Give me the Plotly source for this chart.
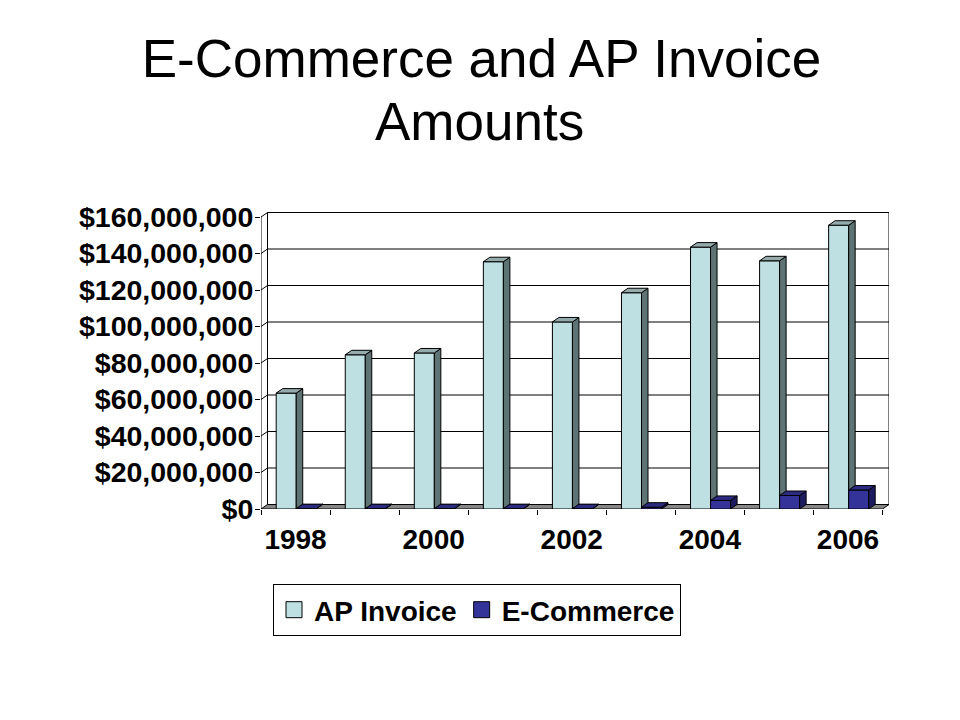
import plotly.graph_objects as go

# ---------------- data ----------------
years = ["1998", "1999", "2000", "2001", "2002", "2003", "2004", "2005", "2006"]
ap_invoice = [63.5e6, 84.5e6, 85.5e6, 135.5e6, 102.5e6, 118.5e6, 143.5e6, 136.0e6, 155.5e6]
e_commerce = [0.2e6, 0.2e6, 0.2e6, 0.2e6, 0.2e6, 1.0e6, 4.7e6, 7.4e6, 10.4e6]
y_ticks = [0, 20e6, 40e6, 60e6, 80e6, 100e6, 120e6, 140e6, 160e6]
y_tick_labels = ["$0", "$20,000,000", "$40,000,000", "$60,000,000", "$80,000,000",
                 "$100,000,000", "$120,000,000", "$140,000,000", "$160,000,000"]
x_label_years = ["1998", "2000", "2002", "2004", "2006"]

# ---------------- geometry (pixels) ----------------
W, H = 960, 720
PL, PR, PT, PB = 261, 889, 212, 509          # plot area in px
DX_PX, DY_PX = 6.5, 4.5                       # 3-D depth offset
FRONT_H = 292.0                               # px from 0 to 160M on front plane
plot_w, plot_h = PR - PL, PB - PT
n = len(years)
cw = (plot_w - DX_PX) / n                     # px per category
x_min = -0.5
x_max = x_min + plot_w / cw
s = FRONT_H / 160e6                           # px per unit
y_max = plot_h / s
dxu = DX_PX / cw
dyu = DY_PX / s
BAR_W = 0.29
AP_OFF = -0.28
EC_OFF = AP_OFF + BAR_W

AP_FRONT, AP_SIDE, AP_TOP = "#BEE0E3", "#5E7474", "#94AAAB"
EC_FRONT, EC_SIDE, EC_TOP = "#333399", "#1C1C5E", "#2B2B80"
FLOOR = "#868686"
FONT = "Liberation Sans, Arial, sans-serif"

xs = list(range(n))


def faces(values, off):
    side_x, side_y, top_x, top_y = [], [], [], []
    for i, v in zip(xs, values):
        xl = i + off
        xr = xl + BAR_W
        side_x += [xr, xr + dxu, xr + dxu, xr, xr, None]
        side_y += [0, dyu, v + dyu, v, 0, None]
        top_x += [xl, xr, xr + dxu, xl + dxu, xl, None]
        top_y += [v, v, v + dyu, v + dyu, v, None]
    return side_x, side_y, top_x, top_y


fig = go.Figure()

# AP Invoice (main subplot)
fig.add_trace(go.Bar(x=xs, y=ap_invoice, width=BAR_W, offset=AP_OFF, name="AP Invoice",
                     marker=dict(color=AP_FRONT, line=dict(color="black", width=1)),
                     showlegend=False, xaxis="x", yaxis="y"))
sx, sy, tx, ty = faces(ap_invoice, AP_OFF)
fig.add_trace(go.Scatter(x=sx, y=sy, mode="lines", fill="toself", fillcolor=AP_SIDE,
                         line=dict(color="black", width=1), showlegend=False,
                         hoverinfo="skip", xaxis="x", yaxis="y"))
fig.add_trace(go.Scatter(x=tx, y=ty, mode="lines", fill="toself", fillcolor=AP_TOP,
                         line=dict(color="black", width=1), showlegend=False,
                         hoverinfo="skip", xaxis="x", yaxis="y"))

# E-Commerce (overlay subplot, drawn on top)
fig.add_trace(go.Bar(x=xs, y=e_commerce, width=BAR_W, offset=EC_OFF, name="E-Commerce",
                     marker=dict(color=EC_FRONT, line=dict(color="black", width=1)),
                     showlegend=False, xaxis="x2", yaxis="y2"))
sx, sy, tx, ty = faces(e_commerce, EC_OFF)
fig.add_trace(go.Scatter(x=sx, y=sy, mode="lines", fill="toself", fillcolor=EC_SIDE,
                         line=dict(color="black", width=1), showlegend=False,
                         hoverinfo="skip", xaxis="x2", yaxis="y2"))
fig.add_trace(go.Scatter(x=tx, y=ty, mode="lines", fill="toself", fillcolor=EC_TOP,
                         line=dict(color="black", width=1), showlegend=False,
                         hoverinfo="skip", xaxis="x2", yaxis="y2"))

# legend entries
for name, col in [("AP Invoice", AP_FRONT), ("E-Commerce", EC_FRONT)]:
    fig.add_trace(go.Scatter(x=[None], y=[None], mode="markers", name=name,
                             marker=dict(symbol="square", size=18, color=col,
                                         line=dict(color="black", width=1)),
                             xaxis="x", yaxis="y"))

# ---------------- walls / floor / grid ----------------
shapes = []
shapes.append(dict(type="path", xref="x", yref="y", layer="below",
                   path=f"M{x_min},0 L{x_min + n},0 L{x_min + n + dxu},{dyu} L{x_min + dxu},{dyu} Z",
                   fillcolor=FLOOR, line=dict(color="black", width=1)))
for v in y_ticks[1:]:
    shapes.append(dict(type="line", xref="x", yref="y", layer="below",
                       x0=x_min + dxu, x1=x_max, y0=v + dyu, y1=v + dyu,
                       line=dict(color="black", width=1)))
    shapes.append(dict(type="line", xref="x", yref="y", layer="below",
                       x0=x_min, x1=x_min + dxu, y0=v, y1=v + dyu,
                       line=dict(color="black", width=1)))
for xv in [x_min + dxu, x_max]:
    shapes.append(dict(type="line", xref="x", yref="y", layer="below",
                       x0=xv, x1=xv, y0=dyu, y1=y_ticks[-1] + dyu,
                       line=dict(color="black", width=1)))
shapes.append(dict(type="line", xref="x", yref="y", layer="below",
                   x0=x_min, x1=x_min, y0=0, y1=y_ticks[-1],
                   line=dict(color="black", width=1)))


def py(p):
    return (PB - p) / plot_h


def px(p):
    return (p - PL) / plot_w


annotations = [
    dict(text="Amounts", xref="paper", yref="paper", x=px(479), y=py(121.8),
         xanchor="center", yanchor="middle", showarrow=False,
         font=dict(family=FONT, size=53, color="black")),
]

fig.update_layout(
    width=W, height=H,
    margin=dict(l=PL, r=W - PR, t=PT, b=H - PB, autoexpand=False),
    paper_bgcolor="white", plot_bgcolor="white",
    title=dict(text="E-Commerce and AP Invoice", x=481.5 / W, xanchor="center",
               y=1 - 58.5 / H, yanchor="middle", yref="container",
               font=dict(family=FONT, size=53, color="black")),
    barmode="overlay",
    xaxis=dict(range=[x_min, x_max], showgrid=False, zeroline=False, showline=False,
               tickmode="array", tickvals=[x_min + k for k in range(n + 1)],
               ticktext=[""] * (n + 1), ticks="outside", ticklen=5, tickcolor="black",
               tickwidth=1, fixedrange=True),
    yaxis=dict(range=[0, y_max], showgrid=False, zeroline=False, showline=False,
               tickmode="array", tickvals=y_ticks, ticktext=y_tick_labels,
               ticks="outside", ticklen=5, tickcolor="black", tickwidth=1,
               ticklabelstandoff=-4,
               tickfont=dict(family=FONT, size=28.5, color="black", weight="bold"),
               fixedrange=True),
    xaxis2=dict(range=[x_min, x_max], overlaying="x", side="bottom", anchor="y",
                showgrid=False, zeroline=False, showline=False,
                tickmode="array", tickvals=[years.index(yv) for yv in x_label_years],
                ticktext=x_label_years, ticks="", ticklabelstandoff=11,
                tickfont=dict(family=FONT, size=28, color="black", weight="bold"),
                fixedrange=True),
    yaxis2=dict(range=[0, y_max], overlaying="y", showgrid=False, zeroline=False,
                showline=False, showticklabels=False, ticks="", fixedrange=True),
    shapes=shapes,
    annotations=annotations,
    showlegend=True,
    legend=dict(orientation="h", x=px(273), y=py(584), xanchor="left", yanchor="top",
                bordercolor="black", borderwidth=1, bgcolor="white",
                font=dict(family=FONT, size=28, color="black", weight="bold"),
                itemclick=False, itemdoubleclick=False),
)

fig.write_html("out.html", config={"displayModeBar": False},
               post_script="document.body.style.margin='0';")
